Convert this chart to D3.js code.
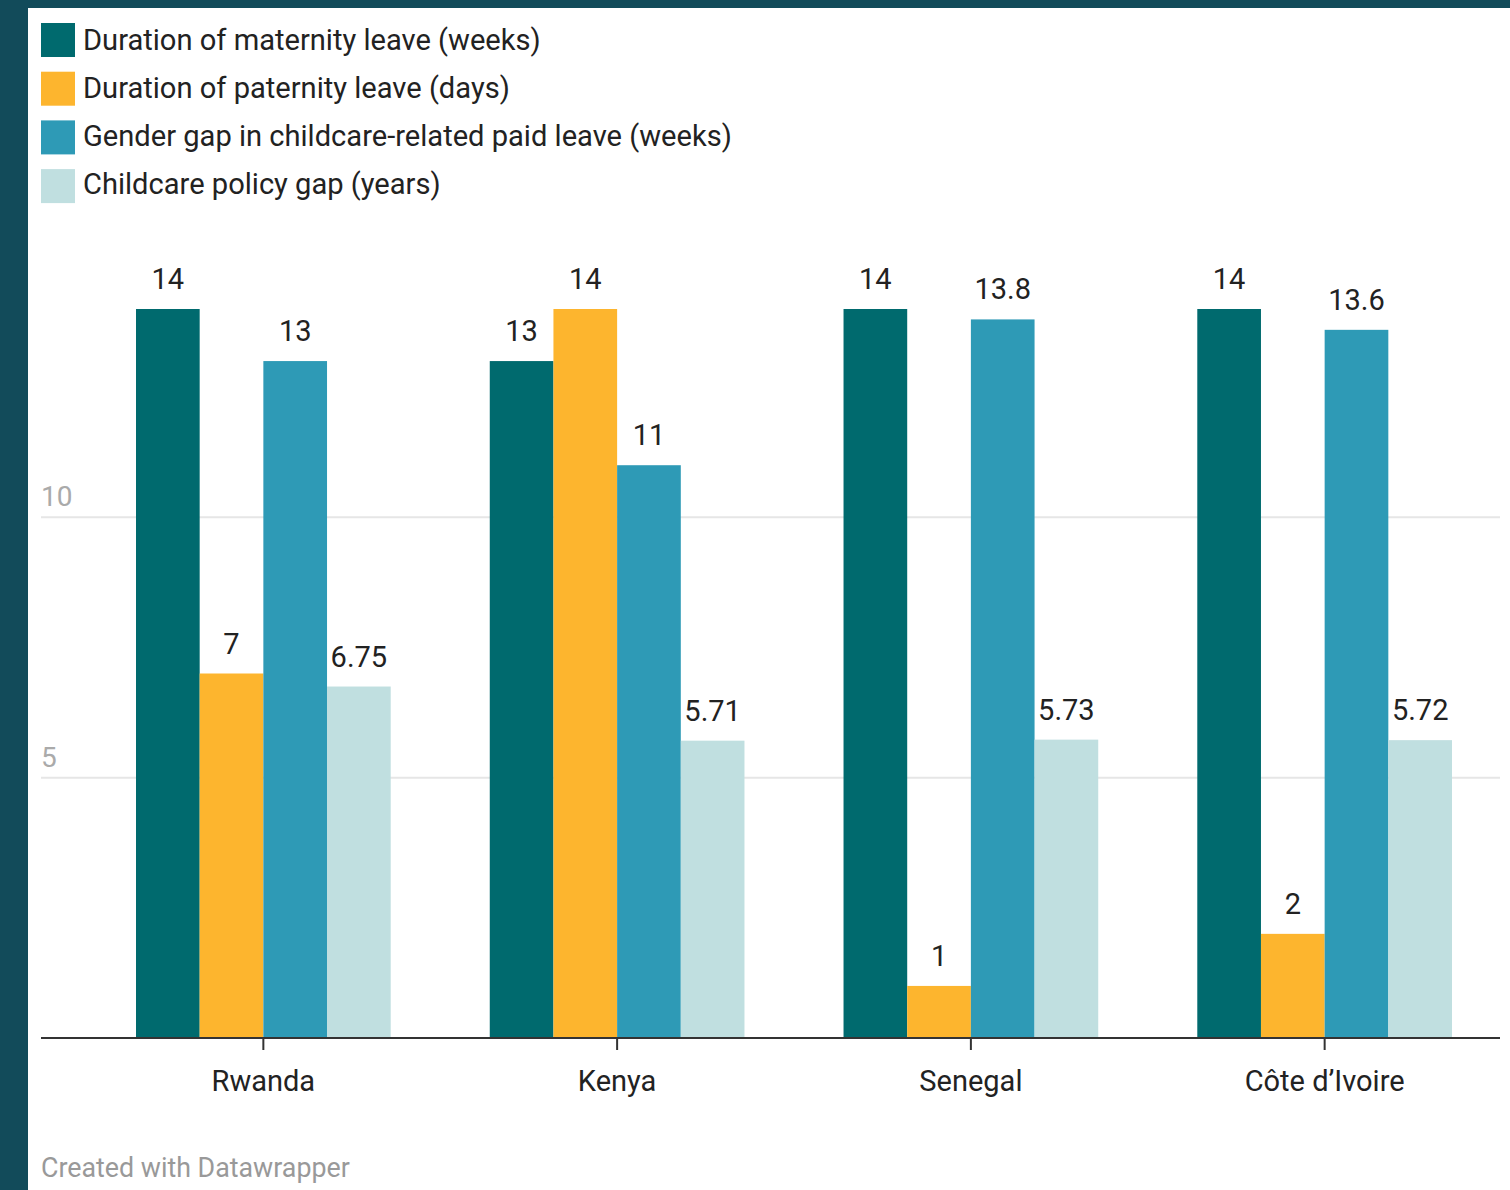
<!DOCTYPE html>
<html>
<head>
<meta charset="utf-8">
<script src="https://cdn.jsdelivr.net/npm/d3@7"></script>
<style>
  html, body { margin: 0; padding: 0; background: #124b5a; }
  svg { display: block; font-family: Roboto, "Noto Sans", sans-serif; }
</style>
</head>
<body>
<svg id="chart" width="1510" height="1190"></svg>
<script>
// countries along the x axis
const countries = ["Rwanda", "Kenya", "Senegal", "Côte d’Ivoire"]

// one list per series, in country order
const seriesNames = [
    "Duration of maternity leave (weeks)",
    "Duration of paternity leave (days)",
    "Gender gap in childcare-related paid leave (weeks)",
    "Childcare policy gap (years)"
]
const maternityWeeks = [14, 13, 14, 14]
const paternityDays = [7, 14, 1, 2]
const genderGapWeeks = [13, 11, 13.8, 13.6]
const policyGapYears = [6.75, 5.71, 5.73, 5.72]
const valueLabels = [
    ["14", "13", "14", "14"],
    ["7", "14", "1", "2"],
    ["13", "11", "13.8", "13.6"],
    ["6.75", "5.71", "5.73", "5.72"]
]

const yTicks = [5, 10]
const colors = ["#006a6e", "#fdb52e", "#2e9ab6", "#c0dfe0"]

const allSeries = [maternityWeeks, paternityDays, genderGapWeeks, policyGapYears]

const svg = d3.select("#chart")

// white card, border shows on left and top
svg.append("rect")
    .attr("x", 28).attr("y", 8)
    .attr("width", 1510 - 28).attr("height", 1190 - 8)
    .attr("fill", "#fff")

// legend
const legend = svg.append("g")
seriesNames.forEach((name, i) => {
    const yTop = 23 + i * 48.7
    legend.append("rect")
        .attr("x", 41).attr("y", yTop)
        .attr("width", 34).attr("height", 34)
        .attr("fill", colors[i])
    legend.append("text")
        .attr("x", 83).attr("y", 40 + i * 48)
        .attr("dy", "0.36em")
        .attr("font-size", 29.1)
        .attr("fill", "#222")
        .text(name)
})

// scales
const x0 = d3.scaleBand()
    .domain(countries)
    .range([136, 1452])
    .paddingInner(0.28)
    .paddingOuter(0)

const x1 = d3.scaleBand()
    .domain(d3.range(allSeries.length))
    .range([0, x0.bandwidth()])
    .padding(0)

const y = d3.scaleLinear()
    .domain([0, 14])
    .range([1038, 309])

// gridlines + tick labels
const grid = svg.append("g")
yTicks.forEach(t => {
    grid.append("line")
        .attr("x1", 41).attr("x2", 1500)
        .attr("y1", y(t)).attr("y2", y(t))
        .attr("stroke", "#e6e6e6")
        .attr("stroke-width", 2)
    grid.append("text")
        .attr("x", 41).attr("y", y(t) - 11)
        .attr("font-size", 28)
        .attr("fill", "#aaaaaa")
        .text(t)
})

// bars
const groups = svg.append("g")
    .selectAll("g")
    .data(countries)
    .join("g")
    .attr("transform", d => `translate(${x0(d)},0)`)

groups.each(function (country, ci) {
    const g = d3.select(this)
    allSeries.forEach((vals, si) => {
        const v = vals[ci]
        g.append("rect")
            .attr("x", x1(si))
            .attr("y", y(v))
            .attr("width", x1.bandwidth())
            .attr("height", y(0) - y(v))
            .attr("fill", colors[si])
        g.append("text")
            .attr("x", x1(si) + x1.bandwidth() / 2)
            .attr("y", y(v) - 20)
            .attr("text-anchor", "middle")
            .attr("font-size", 29)
            .attr("fill", "#222")
            .text(valueLabels[si][ci])
    })
})

// x axis
const xAxis = d3.axisBottom(x0).tickSize(12).tickSizeOuter(0).tickPadding(20)
const axisG = svg.append("g")
    .attr("transform", `translate(0,${y(0)})`)
    .call(xAxis)
axisG.select(".domain").remove()
axisG.append("line")
    .attr("x1", 41).attr("x2", 1500)
    .attr("y1", 0).attr("y2", 0)
    .attr("stroke", "#333")
    .attr("stroke-width", 2)
axisG.selectAll(".tick line").attr("stroke", "#333").attr("stroke-width", 2)
axisG.selectAll(".tick text")
    .attr("font-size", 29)
    .attr("font-family", "Roboto, sans-serif")
    .attr("fill", "#222")

// footer
svg.append("text")
    .attr("x", 41).attr("y", 1177)
    .attr("font-size", 26.8)
    .attr("fill", "#999")
    .text("Created with Datawrapper")
</script>
</body>
</html>
